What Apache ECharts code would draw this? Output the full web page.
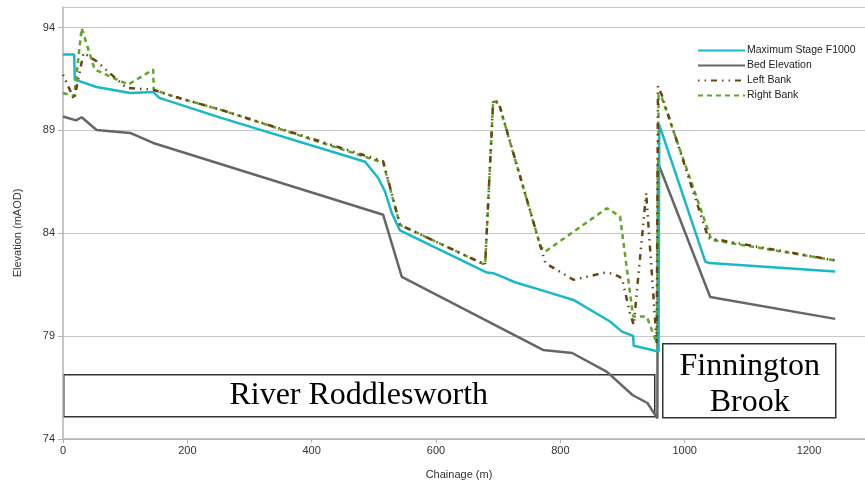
<!DOCTYPE html>
<html>
<head>
<meta charset="utf-8">
<script src="https://cdn.jsdelivr.net/npm/echarts@6/dist/echarts.min.js"></script>
<style>
  html, body { margin: 0; padding: 0; background: #fff; }
  #chart { width: 865px; height: 487px; }
</style>
</head>
<body>
<div id="chart"></div>
<script>
// long section data
const stageX = [0, 18, 19, 54, 108, 145, 155, 253, 486, 494, 507, 518, 529, 542, 682, 692, 703, 727, 768, 821, 880, 899, 917, 918, 958, 959, 1033, 1040, 1242]
const stageY = [92.69, 92.69, 91.47, 91.11, 90.82, 90.87, 90.58, 89.62, 87.48, 87.17, 86.69, 86.03, 84.98, 84.14, 82.09, 82.06, 81.93, 81.62, 81.25, 80.76, 79.71, 79.22, 79.01, 78.53, 78.25, 89.28, 82.63, 82.55, 82.14]

const bedX = [0, 21, 30, 54, 108, 145, 515, 545, 772, 819, 875, 916, 940, 956, 957, 1041, 1242]
const bedY = [89.68, 89.49, 89.64, 89.02, 88.88, 88.39, 84.9, 81.88, 78.33, 78.18, 77.26, 76.14, 75.75, 75.0, 87.43, 80.9, 79.84]

const leftX = [0, 18, 33, 54, 102, 145, 177, 253, 515, 542, 679, 692, 701, 768, 776, 821, 872, 885, 899, 912, 918, 938, 955, 957, 963, 1038, 1242]
const leftY = [91.71, 90.5, 92.77, 92.36, 91.07, 90.98, 90.66, 90.01, 87.5, 84.41, 82.47, 90.5, 90.34, 83.36, 82.55, 81.74, 82.09, 82.03, 81.82, 80.12, 79.55, 85.96, 78.66, 91.15, 90.74, 83.77, 82.68]

const rightX = [0, 18, 30, 51, 105, 145, 146, 177, 253, 515, 542, 679, 692, 701, 768, 776, 875, 896, 910, 917, 939, 955, 958, 963, 1043, 1242]
const rightY = [90.82, 90.66, 93.98, 91.96, 91.23, 91.96, 90.98, 90.66, 90.01, 87.43, 84.41, 82.47, 90.45, 90.3, 83.36, 83.12, 85.22, 84.82, 81.58, 79.95, 79.95, 78.66, 90.74, 90.6, 83.68, 82.68]

const seriesNames = ['Maximum Stage F1000', 'Bed Elevation', 'Left Bank', 'Right Bank']
const xTicks = { min: 0, max: 1290, interval: 200 }
const yTicks = { min: 74, max: 95, interval: 5 }

function pairs(xs, ys) {
  return xs.map((x, i) => [x, ys[i]])
}

const chart = echarts.init(document.getElementById('chart'))

const axisGrey = '#b3b3b3'
const labelStyle = { color: '#333', fontSize: 11, fontFamily: 'Liberation Sans' }

const option = {
  animation: false,
  grid: { left: 63, right: 0, top: 7, bottom: 48 },
  legend: {
    orient: 'vertical',
    left: 697,
    top: 45,
    itemWidth: 47,
    itemHeight: 10,
    itemGap: 4,
    padding: 0,
    itemStyle: { opacity: 0 },
    textStyle: { color: '#222', fontSize: 10.5, fontFamily: 'Liberation Sans', padding: [0, 0, 0, -3] },
    data: seriesNames
  },
  xAxis: {
    type: 'value',
    min: xTicks.min,
    max: xTicks.max,
    interval: xTicks.interval,
    name: 'Chainage (m)',
    nameLocation: 'middle',
    nameGap: 30,
    nameTextStyle: { color: '#333', fontSize: 11, fontFamily: 'Liberation Sans', padding: [0, 10, 0, 0] },
    axisLine: { lineStyle: { color: axisGrey, width: 1.5 } },
    axisTick: { show: true, length: 4, lineStyle: { color: axisGrey } },
    axisLabel: { ...labelStyle, showMaxLabel: false, margin: 6, formatter: v => String(v) },
    splitLine: { show: false }
  },
  yAxis: {
    type: 'value',
    min: yTicks.min,
    max: yTicks.max,
    interval: yTicks.interval,
    name: 'Elevation (mAOD)',
    nameLocation: 'middle',
    nameGap: 40,
    nameRotate: 90,
    nameTextStyle: { color: '#333', fontSize: 11, fontFamily: 'Liberation Sans', padding: [0, 0, 0, -20] },
    axisLine: { show: true, lineStyle: { color: axisGrey, width: 1.5 } },
    axisTick: { show: true, length: 5, lineStyle: { color: axisGrey } },
    axisLabel: { ...labelStyle, showMaxLabel: false, margin: 8 },
    splitLine: { show: true, lineStyle: { color: '#c8c8c8', width: 1 } }
  },
  series: [
    {
      name: seriesNames[0],
      type: 'line',
      symbol: 'none',
      color: '#16b9c8',
      lineStyle: { width: 2.5, color: '#16b9c8' },
      data: pairs(stageX, stageY),
      z: 4
    },
    {
      name: seriesNames[1],
      type: 'line',
      symbol: 'none',
      color: '#666666',
      lineStyle: { width: 2.5, color: '#666666' },
      data: pairs(bedX, bedY),
      z: 3
    },
    {
      name: seriesNames[2],
      type: 'line',
      symbol: 'none',
      color: '#6e4314',
      lineStyle: { width: 2.5, color: '#6e4314', type: [1.5, 5, 1.5, 5, 6, 5] },
      data: pairs(leftX, leftY),
      z: 5
    },
    {
      name: seriesNames[3],
      type: 'line',
      symbol: 'none',
      color: '#5ea62a',
      lineStyle: { width: 2.5, color: '#5ea62a', type: [5, 4] },
      data: pairs(rightX, rightY),
      z: 4
    }
  ],
  graphic: [
    {
      type: 'group',
      left: 63,
      top: 374,
      z: 10,
      children: [
        { type: 'rect', shape: { x: 0, y: 0, width: 591, height: 42 }, style: { fill: '#fff', stroke: '#333', lineWidth: 1.5 } },
        { type: 'text', x: 295, y: 21, style: { text: 'River Roddlesworth', fill: '#000', font: '32px "Liberation Serif"', align: 'center', verticalAlign: 'middle' } }
      ]
    },
    {
      type: 'group',
      left: 662,
      top: 343,
      z: 10,
      children: [
        { type: 'rect', shape: { x: 0, y: 0, width: 173, height: 74 }, style: { fill: '#fff', stroke: '#333', lineWidth: 1.5 } },
        { type: 'text', x: 87, y: 41, style: { text: 'Finnington\nBrook', fill: '#000', font: '32px "Liberation Serif"', lineHeight: 36, align: 'center', verticalAlign: 'middle' } }
      ]
    }
  ]
}

chart.setOption(option)
</script>
</body>
</html>
